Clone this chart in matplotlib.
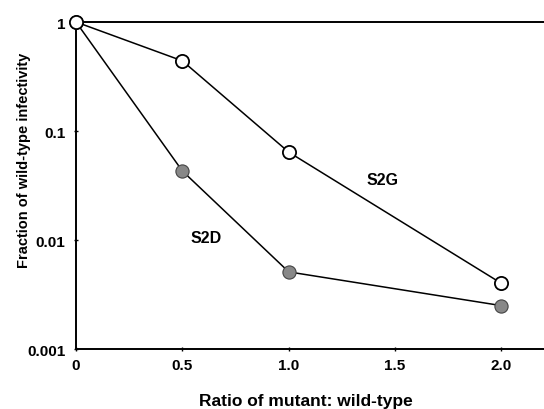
import matplotlib
matplotlib.use("Agg")
import matplotlib.pyplot as plt

plt.rcParams['font.family'] = ['Liberation Sans', 'DejaVu Sans']
plt.rcParams['font.weight'] = 'bold'

ratio = [0, 0.5, 1.0, 2.0]
s2g = [1.0, 0.44, 0.064, 0.0040]
s2d = [1.0, 0.043, 0.0051, 0.0025]
xticks = [0, 0.5, 1.0, 1.5, 2.0]
xticklabels = ["0", "0.5", "1.0", "1.5", "2.0"]
yticks = [0.001, 0.01, 0.1, 1]
yticklabels = ["0.001", "0.01", "0.1", "1"]

fig = plt.figure(figsize=(5.44, 4.10), dpi=100)
ax = fig.add_axes([0.1397, 0.1463, 0.8603, 0.7976])

ax.plot(ratio, s2d, '-', color='black', lw=1.1, marker='o', ms=9.5,
        mfc='#888888', mec='#444444', mew=0.8, clip_on=False, zorder=3)
ax.plot(ratio, s2g, '-', color='black', lw=1.1, marker='o', ms=9.5,
        mfc='white', mec='black', mew=1.3, clip_on=False, zorder=4)

ax.set_yscale('log')
ax.set_ylim(0.001, 1)
ax.set_xlim(0, 2.20)
ax.set_xticks(xticks)
ax.set_xticklabels(xticklabels)
ax.set_yticks(yticks)
ax.set_yticklabels(yticklabels)
ax.minorticks_off()
ax.tick_params(axis='both', labelsize=11, length=3, width=1, direction='inout')
ax.tick_params(axis='x', pad=5)
ax.tick_params(axis='y', pad=6)

ax.spines['right'].set_visible(False)
for s in ['left', 'bottom', 'top']:
    ax.spines[s].set_linewidth(1.4)

ax.text(1.44, 0.036, "S2G", fontsize=11.5, ha='center', va='center', fontweight='bold')
ax.text(0.61, 0.0106, "S2D", fontsize=11.5, ha='center', va='center', fontweight='bold')

ax.set_xlabel("Ratio of mutant: wild-type", fontsize=12.5, fontweight='bold', va='center')
ax.xaxis.set_label_coords(0.491, -0.158)
ax.set_ylabel("Fraction of wild-type infectivity", fontsize=10.5, fontweight='bold', va='center')
ax.yaxis.set_label_coords(-0.112, 0.58)

fig.savefig("out.png", dpi=100)
